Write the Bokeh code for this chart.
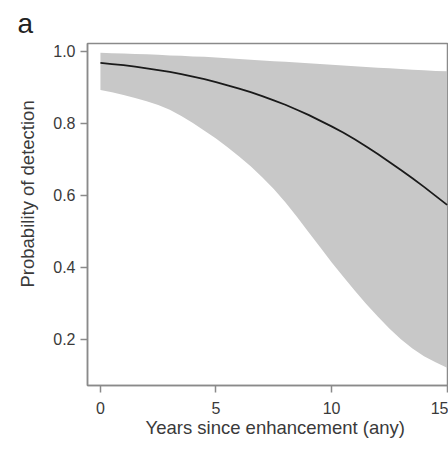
from bokeh.plotting import figure
from bokeh.models import Range1d, FixedTicker, Title
from bokeh.embed import file_html
from bokeh.resources import INLINE

years = [0, 0.5, 1, 1.5, 2, 2.5, 3, 3.5, 4, 4.5, 5, 5.5, 6, 6.5, 7, 7.5,
         8, 8.5, 9, 9.5, 10, 10.5, 11, 11.5, 12, 12.5, 13, 13.5, 14, 14.5, 15]
prob = [0.967, 0.964, 0.961, 0.957, 0.952, 0.947, 0.942, 0.936, 0.929, 0.922,
        0.914, 0.905, 0.896, 0.886, 0.875, 0.863, 0.851, 0.837, 0.823, 0.807,
        0.791, 0.774, 0.755, 0.735, 0.714, 0.692, 0.670, 0.647, 0.623, 0.598, 0.573]
upper = [0.995, 0.994, 0.993, 0.992, 0.991, 0.990, 0.988, 0.987, 0.985, 0.984,
         0.982, 0.980, 0.978, 0.976, 0.974, 0.972, 0.970, 0.968, 0.966, 0.964,
         0.962, 0.960, 0.958, 0.956, 0.954, 0.952, 0.950, 0.948, 0.947, 0.945, 0.944]
lower = [0.892, 0.886, 0.878, 0.870, 0.861, 0.850, 0.837, 0.820, 0.800, 0.779,
         0.757, 0.733, 0.707, 0.680, 0.650, 0.617, 0.580, 0.540, 0.498, 0.456,
         0.414, 0.374, 0.335, 0.298, 0.263, 0.230, 0.200, 0.174, 0.153, 0.136, 0.121]
x_ticks = [0, 5, 10, 15]
y_ticks = [0.2, 0.4, 0.6, 0.8, 1.0]

FONT = "Liberation Sans"
AX = "#8a8a8a"
TXT = "#3a3a3a"

p = figure(width=448, height=449, output_backend="svg", toolbar_location=None,
           x_range=Range1d(-0.56, 15.06), y_range=Range1d(0.0716, 1.021),
           min_border_left=87, min_border_right=0, min_border_top=42,
           min_border_bottom=64)
p.title.visible = False
t = Title(text="a", text_font=FONT, text_font_size="28px", text_font_style="normal",
          text_color="#222222", align="left", offset=-70)
p.add_layout(t, "above")

p.varea(x=years, y1=lower, y2=upper, fill_color="#c8c8c8", fill_alpha=1)
p.line(years, prob, line_color="#1a1a1a", line_width=1.8)

p.grid.visible = False
p.outline_line_color = AX
p.outline_line_width = 1.5
p.background_fill_color = "white"
p.border_fill_color = "white"

for ax in (p.xaxis[0], p.yaxis[0]):
    ax.axis_line_color = AX
    ax.axis_line_width = 1.5
    ax.major_tick_line_color = AX
    ax.major_tick_line_width = 1.5
    ax.major_tick_out = 7
    ax.major_tick_in = 0
    ax.minor_tick_line_color = None
    ax.major_label_text_font = FONT
    ax.major_label_text_font_size = "16px"
    ax.major_label_text_color = TXT

p.xaxis[0].ticker = FixedTicker(ticks=x_ticks)
p.yaxis[0].ticker = FixedTicker(ticks=y_ticks)
p.yaxis[0].major_label_overrides = {v: f"{v:.1f}" for v in y_ticks}
p.xaxis[0].major_label_standoff = 9
p.yaxis[0].major_label_standoff = 5

xt = Title(text="Years since enhancement (any)", text_font=FONT,
           text_font_size="18.5px", text_font_style="normal", text_color=TXT,
           align="left", offset=58, standoff=-3)
p.add_layout(xt, "below")
yt = Title(text="Probability of detection", text_font=FONT,
           text_font_size="18.5px", text_font_style="normal", text_color=TXT,
           align="left", offset=98, standoff=26)
p.add_layout(yt, "left")

open("out.html", "w").write(file_html(p, INLINE))
